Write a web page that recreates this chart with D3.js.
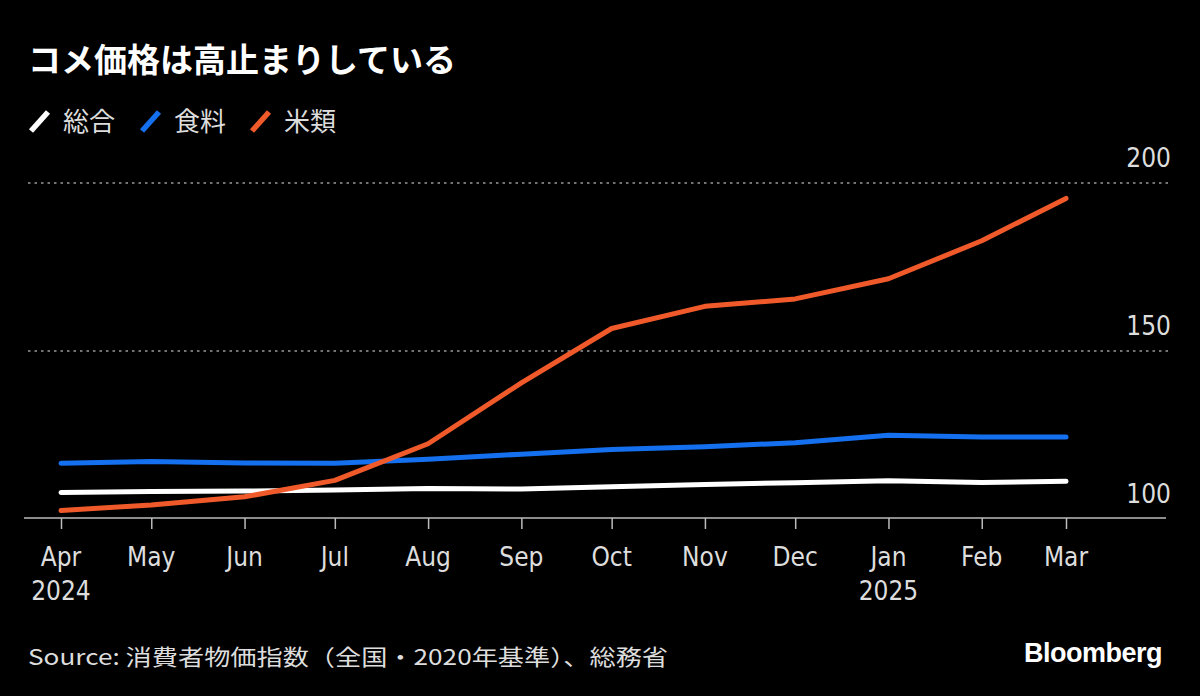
<!DOCTYPE html>
<html><head><meta charset="utf-8">
<script src="https://cdn.jsdelivr.net/npm/d3@7"></script>
<style>
html,body{margin:0;padding:0;background:#000;}
svg{display:block;}
</style></head>
<body>
<script>
const months = ["2024-04-01","2024-05-01","2024-06-01","2024-07-01","2024-08-01","2024-09-01","2024-10-01","2024-11-01","2024-12-01","2025-01-01","2025-02-01","2025-03-01"];
const monthLabels = ["Apr","May","Jun","Jul","Aug","Sep","Oct","Nov","Dec","Jan","Feb","Mar"];
const yearLabels = ["2024","","","","","","","","","2025","",""];
const seriesNames = ["総合","食料","米類"];
const sogo  = [107.9,108.2,108.3,108.6,109.1,108.9,109.6,110.3,110.8,111.4,110.9,111.2];
const shokuryo = [116.6,117.1,116.7,116.6,117.8,119.3,120.7,121.5,122.7,124.9,124.4,124.4];
const komerui = [102.5,104.2,106.6,111.5,122.4,140.5,156.7,163.3,165.5,171.5,182.8,195.4];
const yTicks = [100,150,200];
const colors = ["#ffffff","#1570ef","#f05a2a"];

const W=1200,H=696;
const svg=d3.select("body").append("svg").attr("width",W).attr("height",H);
svg.append("rect").attr("width",W).attr("height",H).attr("fill","#000");

const parse=d3.timeParse("%Y-%m-%d");
const dates=months.map(parse);
const x=d3.scaleTime().domain([dates[0],dates[dates.length-1]]).range([61,1066]);
const y=d3.scaleLinear().domain([100,200]).range([519,183]);
const tickFont="'DejaVu Sans Condensed','DejaVu Sans'";

// title
svg.append("text").attr("x",28).attr("y",72).attr("fill","#fff")
  .attr("font-family","'Noto Sans CJK JP'").attr("font-weight","bold").attr("font-size",33)
  .text("コメ価格は高止まりしている");

// legend
const legX=[29,140,250];
seriesNames.forEach((n,i)=>{
  const g=svg.append("g").attr("transform",`translate(${legX[i]},0)`);
  g.append("line").attr("x1",2).attr("y1",131).attr("x2",19).attr("y2",112)
    .attr("stroke",colors[i]).attr("stroke-width",5.5).attr("stroke-linecap","butt");
  g.append("text").attr("x",34).attr("y",131).attr("fill","#ddd")
    .attr("font-family","'Noto Sans CJK JP'").attr("font-size",26).text(n);
});

// grid
const grid=svg.append("g");
yTicks.filter(t=>t>100).forEach(t=>{
  grid.append("line").attr("x1",28).attr("x2",1170).attr("y1",y(t)).attr("y2",y(t))
    .attr("stroke","#999").attr("stroke-width",1.5).attr("stroke-dasharray","2.5,4");
});
yTicks.forEach(t=>{
  svg.append("text").attr("x",1171).attr("y",y(t)-16).attr("text-anchor","end")
    .attr("fill","#ddd").attr("font-family",tickFont).attr("font-size",26)
    .text(t);
});

// x axis
const xAxis=d3.axisBottom(x).tickValues(dates).tickSize(11).tickFormat("");
const ax=svg.append("g").attr("transform","translate(0,518)").call(xAxis);
ax.select(".domain").remove();
ax.selectAll(".tick line").attr("stroke","#bbb").attr("stroke-width",1.5);
svg.append("line").attr("x1",24).attr("x2",1166).attr("y1",518).attr("y2",518)
  .attr("stroke","#bbb").attr("stroke-width",1.5);
dates.forEach((d,i)=>{
  svg.append("text").attr("x",x(d)).attr("y",566).attr("text-anchor","middle")
    .attr("fill","#ddd").attr("font-family",tickFont).attr("font-size",26)
    .text(monthLabels[i]);
  if(yearLabels[i]){
    svg.append("text").attr("x",x(d)).attr("y",600).attr("text-anchor","middle")
      .attr("fill","#ddd").attr("font-family",tickFont).attr("font-size",26)
      .text(yearLabels[i]);
  }
});

// lines
const line=d3.line().x((d,i)=>x(dates[i])).y(d=>y(d));
[sogo,shokuryo,komerui].forEach((s,i)=>{
  svg.append("path").datum(s).attr("d",line).attr("fill","none")
    .attr("stroke",colors[i]).attr("stroke-width",5)
    .attr("stroke-linecap","round").attr("stroke-linejoin","round");
});

// footer
svg.append("text").attr("x",28).attr("y",665).attr("fill","#ddd")
  .attr("font-family","'Noto Sans CJK JP'").attr("font-size",22)
  .attr("textLength",640).attr("lengthAdjust","spacingAndGlyphs")
  .text("Source: 消費者物価指数（全国・2020年基準）、総務省");
svg.append("text").attr("x",1162).attr("y",662).attr("text-anchor","end").attr("fill","#fff")
  .attr("font-family","'Liberation Sans Narrow','Liberation Sans'").attr("font-weight","bold").attr("font-size",27)
  .attr("letter-spacing","-0.5")
  .text("Bloomberg");
</script>
</body></html>
